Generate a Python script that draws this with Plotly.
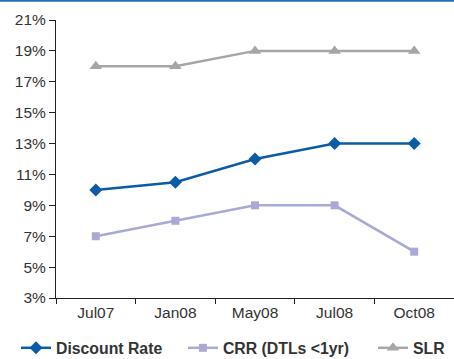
import plotly.graph_objects as go

categories = ["Jul07", "Jan08", "May08", "Jul08", "Oct08"]
discount_rate = [10, 10.5, 12, 13, 13]
crr = [7, 8, 9, 9, 6]
slr = [18, 18, 19, 19, 19]
y_ticks = [3, 5, 7, 9, 11, 13, 15, 17, 19, 21]

fig = go.Figure()
fig.add_trace(go.Scatter(x=categories, y=discount_rate, name="<b>Discount Rate</b>", mode="lines+markers",
                         legend="legend",
                         line=dict(color="#0B5CA8", width=2.5), marker=dict(symbol="diamond", size=10, color="#0B5CA8")))
fig.add_trace(go.Scatter(x=categories, y=crr, name="<b>CRR (DTLs <1yr)</b>", mode="lines+markers",
                         legend="legend2",
                         line=dict(color="#A9A9D6", width=2.5), marker=dict(symbol="square", size=8, color="#A9A9D6")))
fig.add_trace(go.Scatter(x=categories, y=slr, name="<b>SLR</b>", mode="lines+markers",
                         legend="legend3",
                         line=dict(color="#A6A6A6", width=2.5), marker=dict(symbol="triangle-up", size=11, color="#A6A6A6")))

legend_font = dict(size=15.8, color="#333333", family="Liberation Sans, Arial")
common_leg = dict(orientation="h", xanchor="left", y=-0.18, yanchor="middle", font=legend_font,
                  bgcolor="rgba(0,0,0,0)")

fig.update_layout(
    width=454, height=359,
    margin=dict(l=56, r=0, t=20, b=61, autoexpand=False),
    paper_bgcolor="white", plot_bgcolor="white",
    font=dict(family="Liberation Sans, Arial", size=15.5, color="#333333"),
    showlegend=True,
    legend=dict(x=-0.1005, **common_leg),
    legend2=dict(x=0.319, **common_leg),
    legend3=dict(x=0.7965, **common_leg),
    shapes=[dict(type="rect", xref="paper", yref="paper", x0=-0.2, x1=1.1, y0=1.066, y1=1.085,
                 line=dict(width=0), fillcolor="#1E6DB5")],
)
fig.update_xaxes(type="category", range=[-0.5, 4.5], showline=True, linecolor="#222222", linewidth=1,
                 ticks="outside", tickson="boundaries", ticklen=5, tickcolor="#222222",
                 showgrid=False, tickfont=dict(size=15.5, color="#333333"))
fig.update_yaxes(range=[3, 21], tickvals=y_ticks, ticktext=[f"{v}%" for v in y_ticks],
                 showline=True, linecolor="#222222", linewidth=1, ticks="outside", ticklen=6,
                 tickcolor="#222222", showgrid=False, zeroline=False, tickfont=dict(size=15.5, color="#333333"))

fig.write_html("out.html", config={"displayModeBar": False},
               post_script="document.body.style.margin='0';document.body.style.overflow='hidden';")
